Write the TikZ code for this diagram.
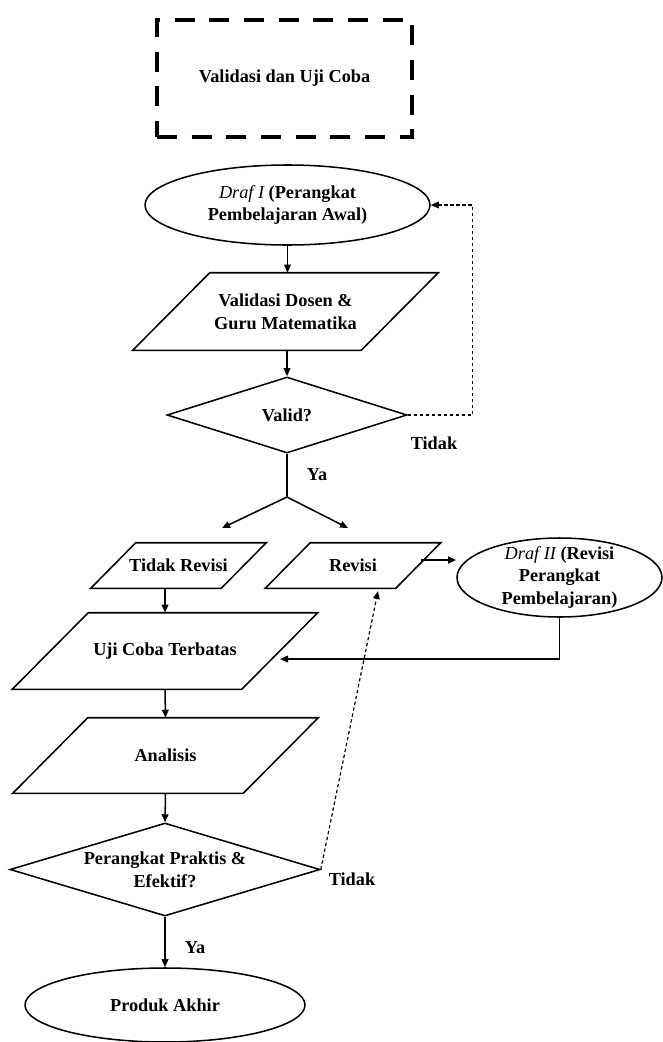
\documentclass[tikz,border=0pt]{standalone}
\usepackage{fontspec}
\setmainfont{Liberation Serif}
\usetikzlibrary{shapes.geometric,arrows.meta}
\newcommand\paral[2]{\draw[conn] ([xshift=#2]#1.north west) -- ([xshift=#2]#1.north east) -- ([xshift=-#2]#1.south east) -- ([xshift=-#2]#1.south west) -- cycle;}
\begin{document}
\begin{tikzpicture}[x=0.75pt,y=-0.75pt,
  flow/.style={draw, line width=1.15pt, inner sep=0pt},
  para/.style={inner sep=0pt, font=\fontsize{13.7}{17}\selectfont\bfseries, align=center},
  oval/.style={flow, ellipse},
  dec/.style={flow, diamond},
  txt/.style={font=\fontsize{13.7}{17}\selectfont\bfseries, align=center, inner sep=0pt},
  lbl/.style={font=\fontsize{13.7}{17}\selectfont\bfseries, inner sep=0pt},
  conn/.style={line width=1.15pt},
  arr/.style={conn, -{Triangle[length=6pt,width=5pt]}},
  fb/.style={line width=0.9pt, dash pattern=on 2.5pt off 2pt, -{Triangle[length=6pt,width=5pt]}}
]
\useasboundingbox (0,0) rectangle (663,1042);

% frame
\node[draw, line width=3pt, dash pattern=on 15pt off 11pt, minimum width=191.25pt, minimum height=87.75pt, inner sep=0pt, txt] (box) at (284.5,78.5) {Validasi dan Uji Coba};

% shapes
\node[oval, minimum width=213.75pt, minimum height=60pt] (drf1) at (287.5,205) {};
\node[txt] (drf1t) at (drf1) {{\mdseries\itshape Draf I} (Perangkat\\Pembelajaran Awal)};

\node[para, minimum width=171pt, minimum height=57.75pt] (val) at (285.5,311.5) {Validasi Dosen \&\\Guru Matematika};
\paral{val}{28.875pt}

\node[dec, minimum width=180pt, minimum height=57pt] (v1) at (287,415) {};
\node[txt] (v1t) at (v1) {Valid?};

\node[para, minimum width=97.5pt, minimum height=33.75pt] (tr) at (178.5,565.5) {Tidak Revisi};
\paral{tr}{16.875pt}

\node[para, minimum width=97.5pt, minimum height=33.75pt] (rev) at (353,565.5) {Revisi};
\paral{rev}{16.875pt}

\node[oval, minimum width=153.75pt, minimum height=59.25pt] (drf2) at (559.5,577.5) {};
\node[txt] (drf2t) at (drf2) {{\mdseries\itshape Draf II} (Revisi\\Perangkat\\Pembelajaran)};

\node[para, minimum width=171.75pt, minimum height=57pt] (uji) at (165,651) {Uji Coba Terbatas};
\paral{uji}{28.5pt}

\node[para, minimum width=172.5pt, minimum height=56.25pt] (ana) at (165.5,755.5) {Analisis};
\paral{ana}{28.125pt}

\node[dec, minimum width=232.5pt, minimum height=69.75pt] (d2) at (165,869.5) {};
\node[txt] (d2t) at (d2) {Perangkat Praktis \&\\Efektif?};

\node[oval, minimum width=210pt, minimum height=55.5pt] (pa) at (165,1005) {};
\node[txt] (pat) at (pa) {Produk Akhir};

% labels
\node[lbl] (tidak1) at (434,443) {Tidak};
\node[lbl] (ya1) at (317,475) {Ya};
\node[lbl] (tidak2) at (352,879) {Tidak};
\node[lbl] (ya2) at (195,948) {Ya};

% helper points
\coordinate (fork) at (287,497);
\coordinate (ltip) at (222,528);
\coordinate (rtip) at (348,528);
\coordinate (ujiin) at (280,659);
\coordinate (revin) at (378,591);
\coordinate (revout) at (421,560);

% connectors
\draw[arr] (drf1.south) -- (drf1.south |- val.north);
\draw[arr] (val.south -| v1.north) -- (v1.north);
\draw[fb] (v1.east) -- ++(65,0) |- (drf1.east);
\draw[conn] (v1.south) -- (fork);
\draw[arr] (fork) -- (ltip);
\draw[arr] (fork) -- (rtip);
\draw[arr] (tr.south -| uji.north) -- (uji.north);
\draw[arr] (revout) -- (revout -| drf2.west);
\draw[arr] (drf2.south) |- (ujiin);
\draw[arr] (uji.south) -- (ana.north);
\draw[arr] (ana.south) -- (d2.north);
\draw[fb] (d2.east) -- (revin);
\draw[arr] (d2.south) -- (pa.north);
\end{tikzpicture}
\end{document}
